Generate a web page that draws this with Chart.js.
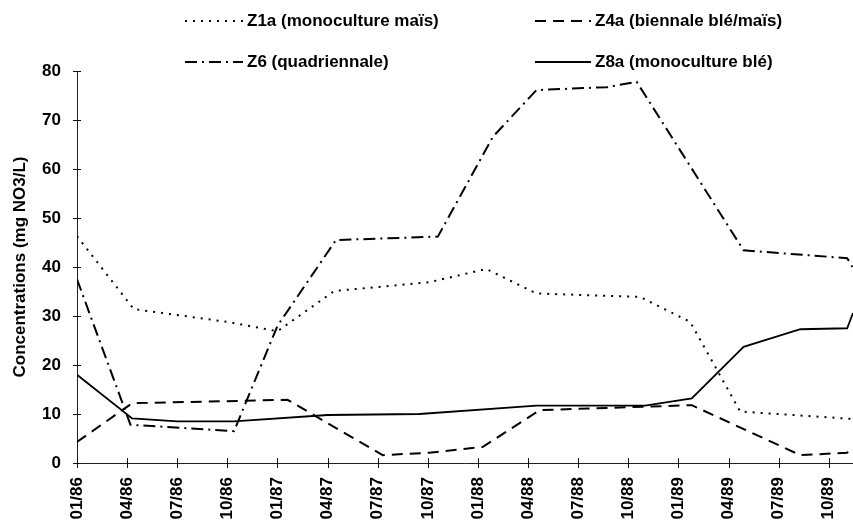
<!DOCTYPE html>
<html>
<head>
<meta charset="utf-8">
<script src="https://cdn.jsdelivr.net/npm/chart.js@4/dist/chart.umd.min.js"></script>
<style>
  html, body { margin: 0; padding: 0; background: #fff; }
  #wrap { width: 853px; height: 527px; }
</style>
</head>
<body>
<div id="wrap"><canvas id="chart" width="853" height="527"></canvas></div>
<script>
// ticks on the time axis, in months since 01/86
const tickMonths = [0, 3, 6, 9, 12, 15, 18, 21, 24, 27, 30, 33, 36, 39, 42, 45];
const tickLabels = ['01/86', '04/86', '07/86', '10/86', '01/87', '04/87', '07/87', '10/87',
                    '01/88', '04/88', '07/88', '10/88', '01/89', '04/89', '07/89', '10/89'];

// Z1a (monoculture maïs)
const z1aMonths = [0, 3.4, 9, 12, 15.4, 21.1, 24.5, 27.5, 33.7, 36.7, 39.7, 46.4];
const z1aValues = [46.3, 31.4, 28.8, 26.9, 35.1, 36.9, 39.6, 34.6, 33.9, 28.8, 10.5, 9.0];

// Z4a (biennale blé/maïs)
const z4aMonths = [0, 3.3, 12.6, 18.3, 21.1, 24.3, 27.7, 36.8, 43.3, 46.1, 46.45];
const z4aValues = [4.3, 12.2, 12.9, 1.6, 2.1, 3.3, 10.8, 11.8, 1.6, 2.1, 3.3];

// Z6 (quadriennale)
const z6Months = [0, 3.2, 9.4, 12, 15.5, 21.6, 24.9, 27.5, 31.7, 33.5, 39.9, 46.1, 46.45];
const z6Values = [37.5, 7.8, 6.5, 28, 45.5, 46.2, 66.6, 76.1, 76.7, 77.8, 43.4, 41.8, 39.8];

// Z8a (monoculture blé)
const z8aMonths = [0, 3.3, 6, 9.4, 15, 20.5, 27.5, 34, 36.8, 39.9, 43.3, 46.1, 46.45];
const z8aValues = [18, 9.1, 8.5, 8.5, 9.8, 10.0, 11.7, 11.7, 13.2, 23.7, 27.3, 27.5, 30.6];

const FONT = '"Liberation Sans", Arial, sans-serif';

function points(months, values) {
    return months.map((m, i) => ({ x: m, y: values[i] }));
}

// legend drawn by hand: two rows, two columns
const legendPlugin = {
    id: 'legendGrid',
    afterDraw(chart) {
        const ctx = chart.ctx;
        const slots = [
            { x0: 185, x1: 243, y: 21 },
            { x0: 535, x1: 591, y: 21 },
            { x0: 185, x1: 243, y: 62 },
            { x0: 535, x1: 591, y: 62 }
        ];
        ctx.save();
        chart.data.datasets.forEach((ds, i) => {
            const s = slots[i];
            ctx.beginPath();
            ctx.strokeStyle = '#000';
            ctx.lineWidth = ds.borderWidth;
            ctx.setLineDash(ds.borderDash || []);
            ctx.moveTo(s.x0, s.y);
            ctx.lineTo(s.x1, s.y);
            ctx.stroke();
            ctx.setLineDash([]);
            ctx.fillStyle = '#000';
            ctx.font = 'bold 17px ' + FONT;
            ctx.textBaseline = 'middle';
            ctx.textAlign = 'left';
            ctx.fillText(ds.label, s.x1 + 4, s.y);
        });
        ctx.restore();
    }
};

// small crosses on the axes at each tick
const tickCross = {
    id: 'tickCross',
    afterDraw(chart) {
        const ctx = chart.ctx;
        const xs = chart.scales.x, ys = chart.scales.y;
        const a = chart.chartArea;
        ctx.save();
        ctx.strokeStyle = '#111';
        ctx.lineWidth = 1;
        xs.ticks.forEach(t => {
            const px = Math.round(xs.getPixelForValue(t.value)) + 0.5;
            ctx.beginPath();
            ctx.moveTo(px, a.bottom - 5);
            ctx.lineTo(px, a.bottom + 5);
            ctx.stroke();
        });
        ys.ticks.forEach(t => {
            const py = Math.round(ys.getPixelForValue(t.value)) + 0.5;
            ctx.beginPath();
            ctx.moveTo(a.left - 4, py);
            ctx.lineTo(a.left + 4, py);
            ctx.stroke();
        });
        ctx.restore();
    }
};

const ctx = document.getElementById('chart').getContext('2d');
new Chart(ctx, {
    type: 'line',
    data: {
        datasets: [
            { label: 'Z1a (monoculture maïs)', data: points(z1aMonths, z1aValues),
              borderColor: '#000', borderWidth: 2, borderDash: [2, 6] },
            { label: 'Z4a (biennale blé/maïs)', data: points(z4aMonths, z4aValues),
              borderColor: '#000', borderWidth: 2, borderDash: [11, 7] },
            { label: 'Z6 (quadriennale)', data: points(z6Months, z6Values),
              borderColor: '#000', borderWidth: 2, borderDash: [12, 5, 2, 5] },
            { label: 'Z8a (monoculture blé)', data: points(z8aMonths, z8aValues),
              borderColor: '#000', borderWidth: 1.8 }
        ]
    },
    options: {
        responsive: false,
        animation: false,
        elements: { point: { radius: 0 }, line: { tension: 0, fill: false } },
        layout: { padding: { top: 71, right: 0, left: 0, bottom: 0 } },
        plugins: { legend: { display: false }, tooltip: { enabled: false } },
        scales: {
            x: {
                type: 'linear',
                min: 0,
                max: 46.45,
                afterBuildTicks: scale => { scale.ticks = tickMonths.map(v => ({ value: v })); },
                afterFit: scale => { scale.height = 64; scale.paddingLeft = 0; scale.paddingRight = 0; },
                grid: { display: false, drawTicks: false },
                border: { display: true, color: '#222', width: 1, dash: [12, 3, 2, 3] },
                ticks: {
                    autoSkip: false,
                    maxRotation: 90,
                    minRotation: 90,
                    padding: 14,
                    color: '#000',
                    font: { family: FONT, size: 17, weight: 'bold' },
                    callback: v => tickLabels[tickMonths.indexOf(v)]
                }
            },
            y: {
                min: 0,
                max: 80,
                afterFit: scale => { scale.width = 77; },
                grid: { display: false, drawTicks: false },
                border: { display: true, color: '#222', width: 1, dash: [12, 3, 2, 3] },
                ticks: {
                    stepSize: 10,
                    padding: 16,
                    color: '#000',
                    font: { family: FONT, size: 17, weight: 'bold' }
                },
                title: {
                    display: true,
                    text: 'Concentrations (mg NO3/L)',
                    color: '#000',
                    padding: { top: 10, bottom: 0 },
                    font: { family: FONT, size: 17, weight: 'bold' }
                }
            }
        }
    },
    plugins: [legendPlugin, tickCross]
});
</script>
</body>
</html>
